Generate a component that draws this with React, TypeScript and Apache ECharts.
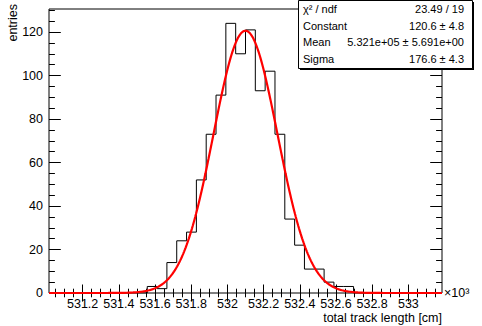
import React, { useEffect, useRef } from "react";
import * as echarts from "echarts";

// ---- data ----
const xMin = 531.014; // x10^3 cm
const xMax = 533.186;
const yMax = 130.6;
const binCounts = [
  0, 0, 0, 0, 0, 0, 0, 0, 0, 0,
  3, 2, 14, 24, 28, 52, 73, 91, 124, 110,
  121, 93, 102, 73, 34, 22, 11, 11, 5, 3,
  3, 0, 0, 0, 0, 0, 0, 0, 0, 0,
];
const fitConstant = 120.6;
const fitMean = 532.1; // 5.321e+05 cm
const fitSigma = 0.1766; // 176.6 cm

const xMajorTicks = [531.2, 531.4, 531.6, 531.8, 532.0, 532.2, 532.4, 532.6, 532.8, 533.0];
const yMajorTicks = [0, 20, 40, 60, 80, 100, 120];

const statsLabels = ["χ² / ndf", "Constant", "Mean", "Sigma"];
const statsValues = ["23.49 / 19", "120.6 ± 4.8", "5.321e+05 ± 5.691e+00", "176.6 ± 4.3"];

const FONT = "Liberation Sans, Arial, Helvetica, sans-serif";

function minorTicks(min: number, max: number, step: number): number[] {
  const out: number[] = [];
  const start = Math.ceil(min / step - 1e-9);
  for (let k = start; k * step <= max + 1e-9; k++) out.push(+(k * step).toFixed(6));
  return out;
}

export default function App() {
  const ref = useRef<HTMLDivElement>(null);
  useEffect(() => {
    if (!ref.current) return;
    const chart = echarts.init(ref.current, undefined, { renderer: "svg" });
    const nBins = binCounts.length;
    const w = (xMax - xMin) / nBins;
    const histData: number[][] = [];
    for (let k = 0; k < nBins; k++) histData.push([xMin + k * w, binCounts[k]]);
    histData.push([xMax, binCounts[nBins - 1]]);

    const fitData: number[][] = [];
    const nPts = 500;
    for (let i = 0; i <= nPts; i++) {
      const x = xMin + ((xMax - xMin) * i) / nPts;
      const z = (x - fitMean) / fitSigma;
      fitData.push([x, fitConstant * Math.exp(-0.5 * z * z)]);
    }

    const xMinor = minorTicks(xMin, xMax, 0.05);
    const yMinor = minorTicks(0, yMax, 5);
    const black = { color: "#000", width: 1 };

    const xAxisBase = (pos: string, ticks: number[], len: number, labels: boolean) => ({
      type: "value",
      position: pos,
      min: xMin,
      max: xMax,
      axisLine: { show: false },
      splitLine: { show: false },
      axisTick: { show: true, inside: true, length: len, customValues: ticks, lineStyle: black },
      axisLabel: labels
        ? {
            show: true,
            customValues: ticks,
            margin: 4,
            color: "#000",
            fontSize: 12.5,
            fontFamily: FONT,
            formatter: (v: number) => String(Math.round(v * 10) / 10),
          }
        : { show: false },
    });
    const yAxisBase = (pos: string, ticks: number[], len: number, labels: boolean) => ({
      type: "value",
      position: pos,
      min: 0,
      max: yMax,
      axisLine: { show: false },
      splitLine: { show: false },
      axisTick: { show: true, inside: true, length: len, customValues: ticks, lineStyle: black },
      axisLabel: labels
        ? {
            show: true,
            customValues: ticks,
            margin: 6,
            color: "#000",
            fontSize: 12.5,
            fontFamily: FONT,
          }
        : { show: false },
    });

    const statsGraphics: any[] = [
      { type: "rect", shape: { x: 300, y: 2, width: 174, height: 68 }, style: { fill: "#000" }, z: 100 },
      { type: "rect", shape: { x: 298.5, y: 0.5, width: 174, height: 68 }, style: { fill: "#fff", stroke: "#000", lineWidth: 1 }, z: 101 },
    ];
    const rowY = [9, 25.5, 42, 59];
    statsLabels.forEach((t, i) => {
      statsGraphics.push({
        type: "text", x: 303, y: rowY[i], z: 102,
        style: { text: t, fontSize: 11, fontFamily: FONT, fill: "#000", textAlign: "left", textVerticalAlign: "middle" },
      });
      statsGraphics.push({
        type: "text", x: 464, y: rowY[i], z: 102,
        style: { text: statsValues[i], fontSize: 11, fontFamily: FONT, fill: "#000", textAlign: "right", textVerticalAlign: "middle" },
      });
    });

    chart.setOption({
      animation: false,
      backgroundColor: "#fff",
      grid: { left: 49, right: 40, top: 9, bottom: 33, show: true, borderColor: "#000", borderWidth: 1, backgroundColor: "transparent" },
      xAxis: [
        xAxisBase("bottom", xMajorTicks, 8.5, true),
        xAxisBase("bottom", xMinor, 4.3, false),
        xAxisBase("top", xMajorTicks, 8.5, false),
        xAxisBase("top", xMinor, 4.3, false),
      ],
      yAxis: [
        yAxisBase("left", yMajorTicks, 11.8, true),
        yAxisBase("left", yMinor, 5.9, false),
        yAxisBase("right", yMajorTicks, 11.8, false),
        yAxisBase("right", yMinor, 5.9, false),
      ],
      series: [
        {
          type: "line",
          data: histData,
          step: "end",
          showSymbol: false,
          symbol: "none",
          lineStyle: { color: "#000", width: 1 },
          z: 3,
        },
        {
          type: "line",
          data: fitData,
          showSymbol: false,
          symbol: "none",
          clip: false,
          lineStyle: { color: "#ff0000", width: 2.2 },
          z: 4,
        },
      ],
      graphic: [
        {
          type: "text", x: 13, y: 4, rotation: Math.PI / 2,
          style: { text: "entries", fontSize: 12.5, fontFamily: FONT, fill: "#000", textAlign: "right", textVerticalAlign: "middle" },
        },
        {
          type: "text", x: 442, y: 318,
          style: { text: "total track length [cm]", fontSize: 12.5, fontFamily: FONT, fill: "#000", textAlign: "right", textVerticalAlign: "middle" },
        },
        {
          type: "text", x: 444, y: 293,
          style: { text: "×10³", fontSize: 12.5, fontFamily: FONT, fill: "#000", textAlign: "left", textVerticalAlign: "middle" },
        },
        ...statsGraphics,
      ],
    });
    return () => chart.dispose();
  }, []);
  return <div ref={ref} style={{ position: "fixed", left: 0, top: 0, width: 482, height: 326 }} />;
}
